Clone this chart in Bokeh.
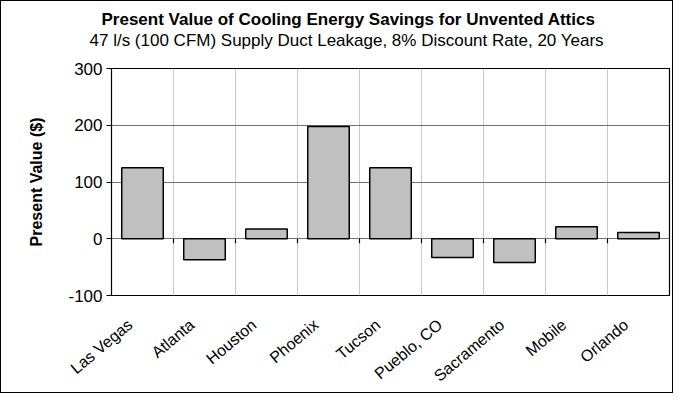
import math
from bokeh.plotting import figure
from bokeh.models import FixedTicker, Title, Range1d, ColumnDataSource
from bokeh.embed import file_html
from bokeh.resources import INLINE

cities = ["Las Vegas", "Atlanta", "Houston", "Phoenix", "Tucson",
          "Pueblo, CO", "Sacramento", "Mobile", "Orlando"]
values = [125, -37, 17, 198, 125, -33, -42, 21, 11]
y_ticks = [-100, 0, 100, 200, 300]
title_text = "Present Value of Cooling Energy Savings for Unvented Attics"
subtitle_text = "47 l/s (100 CFM) Supply Duct Leakage, 8% Discount Rate, 20 Years"

n = len(cities)
xc = [i + 0.5 for i in range(n)]
bounds = list(range(1, n))
LABEL_SHIFT = -0.2  # style: nudge rotated labels left of the category centre

FONT = "Liberation Sans"
W, H = 673, 393

p = figure(width=W, height=H, output_backend="svg", toolbar_location=None,
           x_range=Range1d(0, n), y_range=Range1d(y_ticks[0], y_ticks[-1]),
           min_border_left=110, min_border_right=5, min_border_bottom=97,
           min_border_top=67)
p.styles = {"border": "1px solid black"}

# panels stack outward from the frame: spacer, subtitle, title
p.add_layout(Title(text=" ", text_font=FONT, text_font_size="15px", standoff=0), "above")
p.add_layout(Title(text=subtitle_text, text_font=FONT, text_font_size="17px",
                   text_font_style="normal", text_color="black",
                   align="left", offset=-22, standoff=0), "above")
p.add_layout(Title(text=title_text, text_font=FONT, text_font_size="17px",
                   text_font_style="bold", text_color="black",
                   align="left", offset=-10, standoff=0), "above")

src = ColumnDataSource(dict(x=xc, top=values, city=cities))
p.vbar(x="x", top="top", bottom=0, width=0.67, source=src,
       fill_color="#c0c0c0", line_color="black", line_width=1.5)

# tick marks on zero line at category boundaries
p.segment(x0=bounds, x1=bounds, y0=[0] * len(bounds), y1=[-8] * len(bounds),
          line_color="black", line_width=1.2)

p.outline_line_color = "black"
p.outline_line_width = 1.2

p.xgrid.ticker = FixedTicker(ticks=bounds)
p.xgrid.grid_line_color = "#c8c8c8"
p.ygrid.ticker = FixedTicker(ticks=y_ticks)
p.ygrid.grid_line_color = "#707070"

label_pos = [x + LABEL_SHIFT for x in xc]
xa = p.xaxis[0]
xa.ticker = FixedTicker(ticks=label_pos)
xa.major_label_overrides = {x: c for x, c in zip(label_pos, cities)}
xa.major_label_orientation = 0.70
xa.major_tick_line_color = None
xa.minor_tick_line_color = None
xa.axis_line_color = None
xa.major_label_text_font = FONT
xa.major_label_text_font_size = "16px"
xa.major_label_text_color = "black"
xa.major_label_standoff = 21

ya = p.yaxis[0]
ya.ticker = FixedTicker(ticks=y_ticks)
ya.major_label_overrides = {t: str(t) for t in y_ticks}
ya.minor_tick_line_color = None
ya.major_tick_in = 0
ya.major_tick_out = 5
ya.axis_line_color = "black"
ya.major_tick_line_color = "black"
ya.major_label_text_font = FONT
ya.major_label_text_font_size = "17px"
ya.major_label_text_color = "black"
ya.major_label_standoff = 4
ya.axis_label = "Present Value ($)"
ya.axis_label_text_font = FONT
ya.axis_label_text_font_size = "16px"
ya.axis_label_text_font_style = "bold"
ya.axis_label_text_color = "black"
ya.axis_label_standoff = 20

open("out.html", "w").write(file_html(p, INLINE))
